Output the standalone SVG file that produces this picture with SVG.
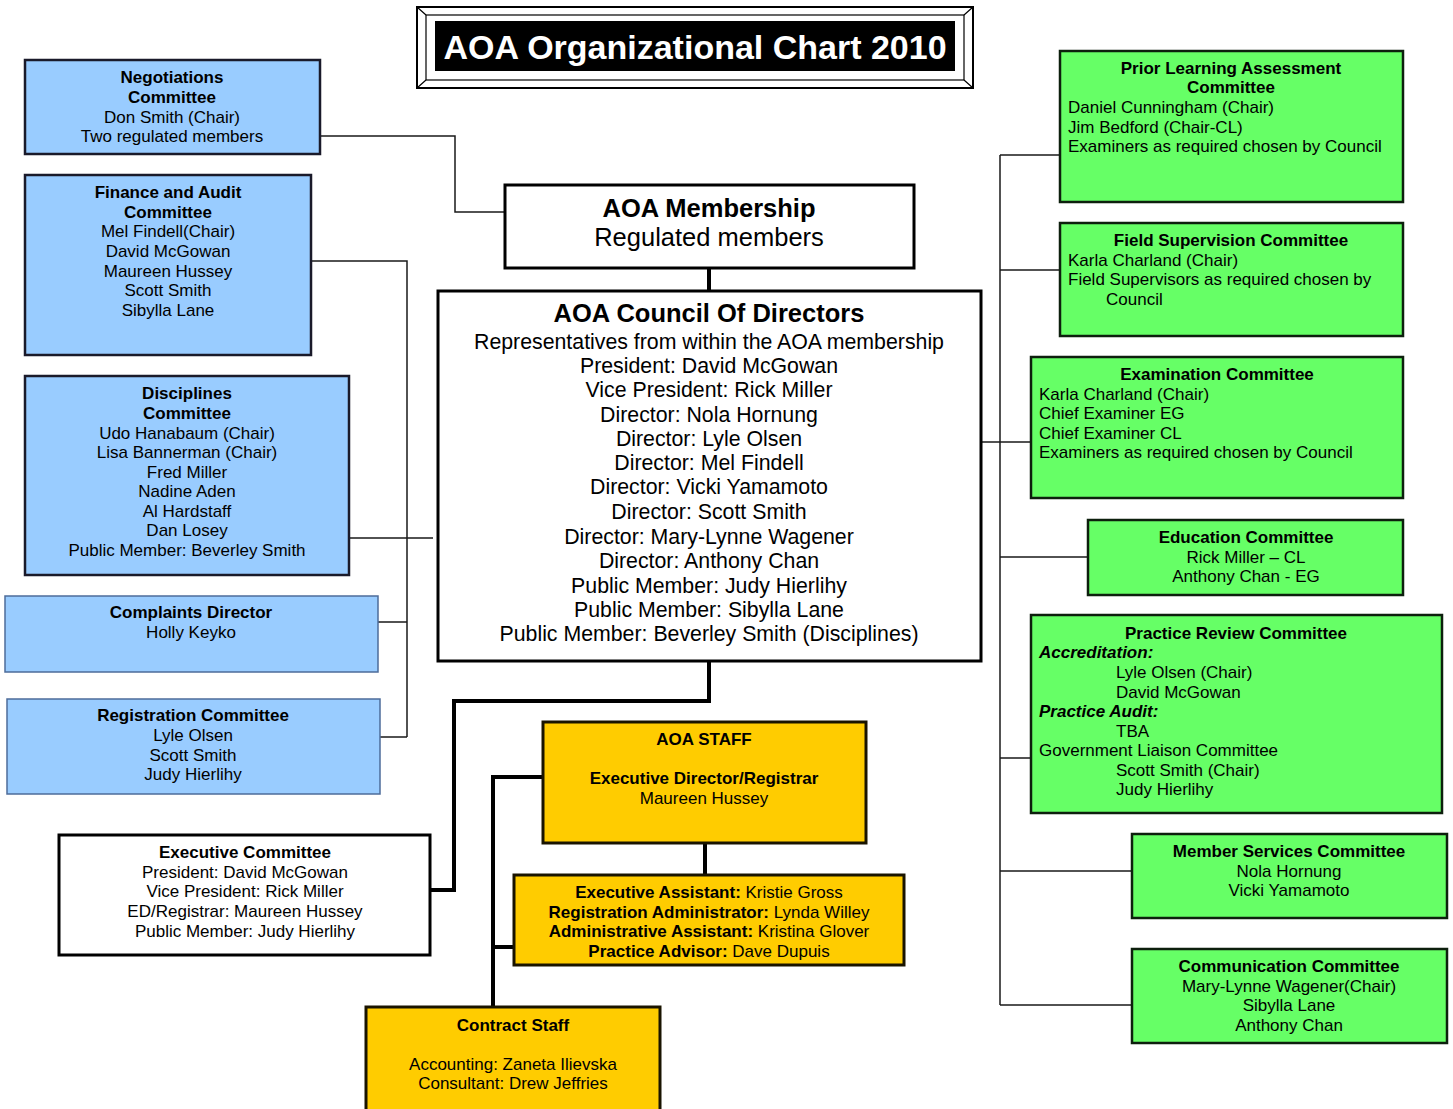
<svg xmlns="http://www.w3.org/2000/svg" width="1453" height="1109" viewBox="0 0 1453 1109">
<style>
text{font-family:"Liberation Sans",Arial,sans-serif;font-size:17px;fill:#000}
.c{text-anchor:middle}
.b{font-weight:bold}
.bi{font-weight:bold;font-style:italic}
.blue{fill:#99CCFF;stroke:#1a1a2a;stroke-width:2.5}
.blue2{fill:#99CCFF;stroke:#4d6c9a;stroke-width:1.5}
.green{fill:#66FF66;stroke:#0d1f0d;stroke-width:2.5}
.yellow{fill:#FFCC00;stroke:#1a1400;stroke-width:3}
.white{fill:#fff;stroke:#000;stroke-width:3}
.thin{fill:none;stroke:#1a1a1a;stroke-width:1.5}
.thick{fill:none;stroke:#000;stroke-width:4}
.big{font-size:25.5px}
.mid{font-size:21.3px}
</style>
<g id="title">
<rect x="417" y="7" width="556" height="81" fill="#fff" stroke="#000" stroke-width="2"/>
<rect x="426" y="15" width="538" height="65" fill="none" stroke="#000" stroke-width="1.2"/>
<path d="M417 7L426 15M973 7L964 15M417 88L426 80M973 88L964 80" stroke="#000" stroke-width="1.2"/>
<rect x="435" y="21" width="520" height="50" fill="#000"/>
<text x="695" y="59" class="c b" style="font-size:34px;fill:#fff">AOA Organizational Chart 2010</text>
</g>
<g id="connectors">
<path class="thin" d="M320 136H455V212H505"/>
<path class="thin" d="M311 261H407V737M346 538H433M377 622H407M377 737H407"/>
<path class="thin" d="M1000 155V1005M1000 155H1060M1000 270H1060M982 442H1031M1000 557H1088M1000 758H1031M1000 871H1132M1000 1005H1132"/>
<path class="thick" d="M709 268V291"/>
<path class="thick" d="M709 661V701H454V890H430"/>
<path class="thick" d="M705 843V874"/>
<path class="thick" d="M543 777H493V1007M493 947H514"/>
</g>
<g id="negotiations">
<rect class="blue" x="25" y="60" width="295" height="94"/>
<text class="c b" x="172" y="83">Negotiations</text>
<text class="c b" x="172" y="103">Committee</text>
<text class="c" x="172" y="122.5">Don Smith (Chair)</text>
<text class="c" x="172" y="142">Two regulated members</text>
</g>
<g id="finance">
<rect class="blue" x="25" y="175" width="286" height="180"/>
<text class="c b" x="168" y="197.5">Finance and Audit</text>
<text class="c b" x="168" y="217.5">Committee</text>
<text class="c" x="168" y="236.5">Mel Findell(Chair)</text>
<text class="c" x="168" y="256.5">David McGowan</text>
<text class="c" x="168" y="276.5">Maureen Hussey</text>
<text class="c" x="168" y="295.5">Scott Smith</text>
<text class="c" x="168" y="315.5">Sibylla Lane</text>
</g>
<g id="disciplines">
<rect class="blue" x="25" y="376" width="324" height="199"/>
<text class="c b" x="187" y="398.5">Disciplines</text>
<text class="c b" x="187" y="418.5">Committee</text>
<text class="c" x="187" y="438.5">Udo Hanabaum (Chair)</text>
<text class="c" x="187" y="457.5">Lisa Bannerman (Chair)</text>
<text class="c" x="187" y="477.5">Fred Miller</text>
<text class="c" x="187" y="496.5">Nadine Aden</text>
<text class="c" x="187" y="516.5">Al Hardstaff</text>
<text class="c" x="187" y="535.5">Dan Losey</text>
<text class="c" x="187" y="555.5">Public Member: Beverley Smith</text>
</g>
<g id="complaints">
<rect class="blue2" x="5" y="596" width="373" height="76"/>
<text class="c b" x="191" y="617.5">Complaints Director</text>
<text class="c" x="191" y="637.5">Holly Keyko</text>
</g>
<g id="registration">
<rect class="blue2" x="7" y="699" width="373" height="95"/>
<text class="c b" x="193" y="720.5">Registration Committee</text>
<text class="c" x="193" y="740.5">Lyle Olsen</text>
<text class="c" x="193" y="760.5">Scott Smith</text>
<text class="c" x="193" y="779.5">Judy Hierlihy</text>
</g>
<g id="executive">
<rect class="white" x="59" y="835" width="371" height="120"/>
<text class="c b" x="245" y="857.5">Executive Committee</text>
<text class="c" x="245" y="877.5">President: David McGowan</text>
<text class="c" x="245" y="896.5">Vice President: Rick Miller</text>
<text class="c" x="245" y="916.5">ED/Registrar: Maureen Hussey</text>
<text class="c" x="245" y="936.5">Public Member: Judy Hierlihy</text>
</g>
<g id="membership">
<rect class="white" x="505" y="185" width="409" height="83"/>
<text class="c b big" x="709" y="217">AOA Membership</text>
<text class="c big" x="709" y="246">Regulated members</text>
</g>
<g id="council">
<rect class="white" x="438" y="291" width="543" height="370"/>
<text class="c b big" x="709" y="322">AOA Council Of Directors</text>
<text class="c mid" x="709" y="348.5">Representatives from within the AOA membership</text>
<text class="c mid" x="709" y="372.5">President: David McGowan</text>
<text class="c mid" x="709" y="396.5">Vice President: Rick Miller</text>
<text class="c mid" x="709" y="421.5">Director: Nola Hornung</text>
<text class="c mid" x="709" y="445.5">Director: Lyle Olsen</text>
<text class="c mid" x="709" y="469.5">Director: Mel Findell</text>
<text class="c mid" x="709" y="493.5">Director: Vicki Yamamoto</text>
<text class="c mid" x="709" y="518.5">Director: Scott Smith</text>
<text class="c mid" x="709" y="543.5">Director: Mary-Lynne Wagener</text>
<text class="c mid" x="709" y="567.5">Director: Anthony Chan</text>
<text class="c mid" x="709" y="592.5">Public Member: Judy Hierlihy</text>
<text class="c mid" x="709" y="616.5">Public Member: Sibylla Lane</text>
<text class="c mid" x="709" y="640.5">Public Member: Beverley Smith (Disciplines)</text>
</g>
<g id="staff">
<rect class="yellow" x="543" y="722" width="323" height="121"/>
<text class="c b" x="704" y="744.5">AOA STAFF</text>
<text class="c b" x="704" y="783.5">Executive Director/Registrar</text>
<text class="c" x="704" y="803.5">Maureen Hussey</text>
</g>
<g id="assistants">
<rect class="yellow" x="514" y="875" width="390" height="90"/>
<text class="c" x="709" y="897.5"><tspan class="b">Executive Assistant:</tspan> Kristie Gross</text>
<text class="c" x="709" y="917.5"><tspan class="b">Registration Administrator:</tspan> Lynda Willey</text>
<text class="c" x="709" y="937"><tspan class="b">Administrative Assistant:</tspan> Kristina Glover</text>
<text class="c" x="709" y="956.5"><tspan class="b">Practice Advisor:</tspan> Dave Dupuis</text>
</g>
<g id="contract">
<rect class="yellow" x="366" y="1007" width="294" height="104"/>
<text class="c b" x="513" y="1030.5">Contract Staff</text>
<text class="c" x="513" y="1069.5">Accounting: Zaneta Ilievska</text>
<text class="c" x="513" y="1088.5">Consultant: Drew Jeffries</text>
</g>
<g id="prior-learning">
<rect class="green" x="1060" y="51" width="343" height="151"/>
<text class="c b" x="1231" y="73.5">Prior Learning Assessment</text>
<text class="c b" x="1231" y="92.5">Committee</text>
<text x="1068" y="112.5">Daniel Cunningham (Chair)</text>
<text x="1068" y="132.5">Jim Bedford (Chair-CL)</text>
<text x="1068" y="151.5">Examiners as required chosen by Council</text>
</g>
<g id="field-supervision">
<rect class="green" x="1060" y="223" width="343" height="113"/>
<text class="c b" x="1231" y="245.5">Field Supervision Committee</text>
<text x="1068" y="265.5">Karla Charland (Chair)</text>
<text x="1068" y="284.5">Field Supervisors as required chosen by</text>
<text x="1106" y="304.5">Council</text>
</g>
<g id="examination">
<rect class="green" x="1031" y="357" width="372" height="141"/>
<text class="c b" x="1217" y="379.5">Examination Committee</text>
<text x="1039" y="399.5">Karla Charland (Chair)</text>
<text x="1039" y="418.5">Chief Examiner EG</text>
<text x="1039" y="438.5">Chief Examiner CL</text>
<text x="1039" y="457.5">Examiners as required chosen by Council</text>
</g>
<g id="education">
<rect class="green" x="1088" y="520" width="315" height="75"/>
<text class="c b" x="1246" y="542.5">Education Committee</text>
<text class="c" x="1246" y="562.5">Rick Miller – CL</text>
<text class="c" x="1246" y="581.5">Anthony Chan - EG</text>
</g>
<g id="practice-review">
<rect class="green" x="1031" y="615" width="411" height="198"/>
<text class="c b" x="1236" y="638.5">Practice Review Committee</text>
<text class="bi" x="1039" y="657.5">Accreditation:</text>
<text x="1116" y="677.5">Lyle Olsen (Chair)</text>
<text x="1116" y="697.5">David McGowan</text>
<text class="bi" x="1039" y="716.5">Practice Audit:</text>
<text x="1116" y="736.5">TBA</text>
<text x="1039" y="755.5">Government Liaison Committee</text>
<text x="1116" y="775.5">Scott Smith (Chair)</text>
<text x="1116" y="794.5">Judy Hierlihy</text>
</g>
<g id="member-services">
<rect class="green" x="1132" y="834" width="315" height="84"/>
<text class="c b" x="1289" y="856.5">Member Services Committee</text>
<text class="c" x="1289" y="876.5">Nola Hornung</text>
<text class="c" x="1289" y="895.5">Vicki Yamamoto</text>
</g>
<g id="communication">
<rect class="green" x="1132" y="949" width="315" height="94"/>
<text class="c b" x="1289" y="971.5">Communication Committee</text>
<text class="c" x="1289" y="991.5">Mary-Lynne Wagener(Chair)</text>
<text class="c" x="1289" y="1010.5">Sibylla Lane</text>
<text class="c" x="1289" y="1030.5">Anthony Chan</text>
</g>
</svg>
